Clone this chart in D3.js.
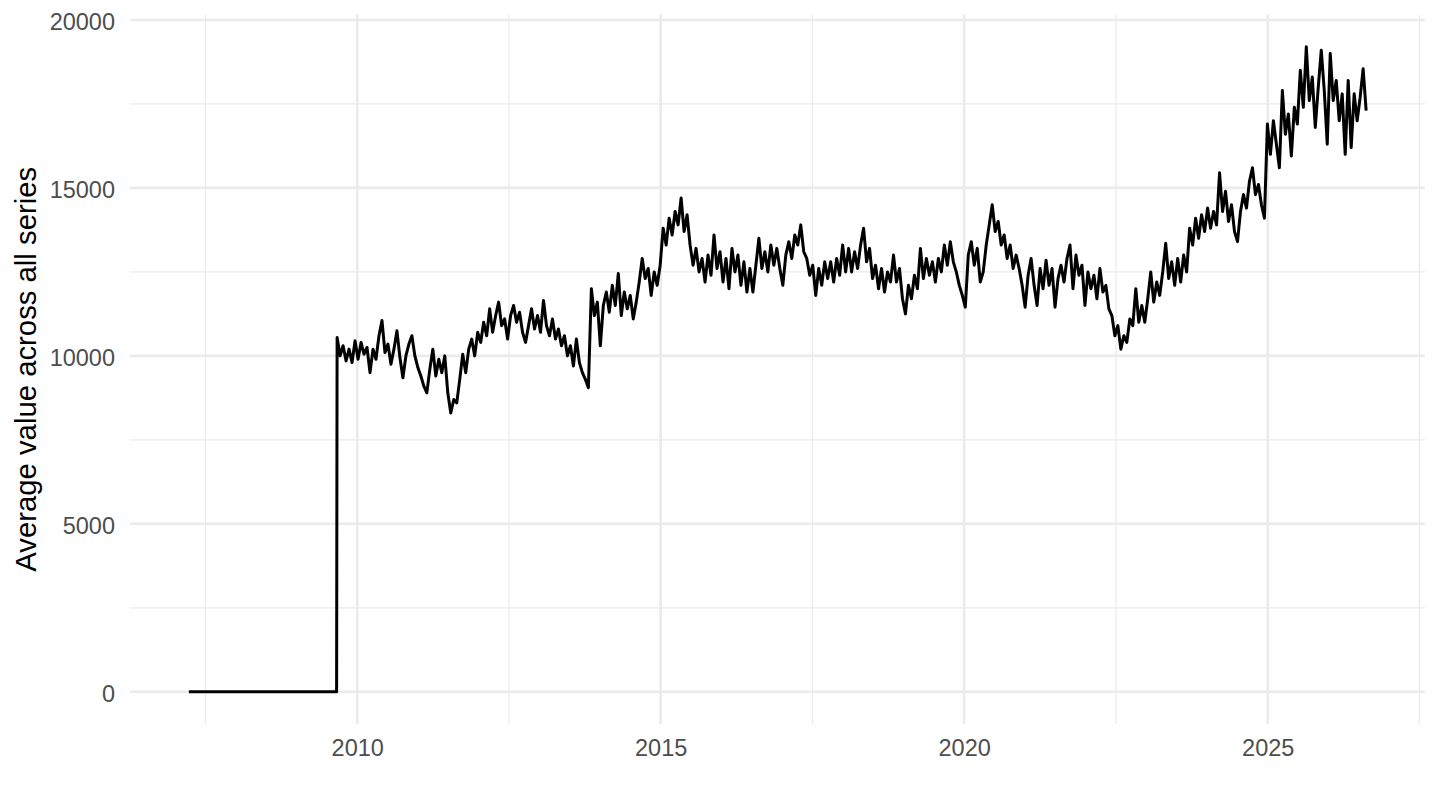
<!DOCTYPE html>
<html>
<head>
<meta charset="utf-8">
<script src="https://cdn.jsdelivr.net/npm/d3@7"></script>
<style>
  body { margin: 0; background: #fff; }
  svg { display: block; }
  text { font-family: "Liberation Sans", Arial, sans-serif; }
</style>
</head>
<body>
<svg id="chart" width="1440" height="810"></svg>
<script>
// flat stretch before the series starts reporting
const leadInDates = ['2007-03-25', '2007-09-23', '2008-03-23', '2008-09-21', '2009-03-22', '2009-08-30'];
const leadInValues = [0, 0, 0, 0, 0, 0];

// main series: one reading every 18 days from the start date
const seriesStart = '2009-09-02';
const seriesStepDays = 18;

const values2009 = [10550, 10000, 10300, 9850, 10200, 9800, 10450, 9900, 10400, 10050,
    10250, 9500, 10200, 9900, 10600, 11050, 10100, 10350, 9750, 10200,
    10750, 9950, 9350, 10000, 10350, 10600, 10000, 9650, 9400, 9100,
    8900, 9600, 10200, 9400, 9900, 9500, 10000, 8900, 8300, 8700,
    8600, 9300, 10050, 9500, 10200, 10500, 10000, 10700, 10400, 11000,
    10600, 11400, 10700, 11200, 11600, 10900, 11100, 10500];
const values2012 = [11200, 11500, 11000, 11300, 10700, 10400, 10900, 11400, 10800, 11200,
    10700, 11650, 10900, 10600, 11100, 10500, 10800, 10300, 10600, 10000,
    10300, 9700, 10500, 9800, 9500, 9300, 9050, 12000, 11200, 11600,
    10300, 11500, 11900, 11300, 12100, 11500, 12450, 11200, 11900, 11400,
    11800, 11100, 11600, 12200, 12900, 12300, 12600, 11800, 12500, 12100,
    12700, 13800, 13300, 14100, 13600, 14300, 13900, 14700];
const values2015 = [13700, 14200, 13300, 12700, 13200, 12500, 12900, 12200, 13000, 12400,
    13600, 12600, 13100, 12200, 12900, 12000, 13200, 12500, 13000, 12100,
    12800, 11900, 12600, 11900, 12700, 13500, 12600, 13100, 12500, 13300,
    12700, 13200, 12600, 12100, 13000, 13400, 12900, 13600, 13300, 13900,
    13100, 12900, 12400, 12700, 11800, 12600, 12100, 12800, 12300, 12800,
    12200, 12900, 12400, 13300, 12500];
const values2018 = [13200, 12500, 13100, 12600, 13300, 13800, 12800, 13200, 12300, 12700,
    12000, 12600, 11900, 12500, 12200, 13000, 12200, 12600, 11700, 11250,
    12100, 11700, 12400, 12000, 13200, 12300, 12900, 12400, 12800, 12200,
    12900, 12500, 13300, 12700, 13400, 12800, 12500, 12100, 11800, 11450,
    13000, 13400, 12700, 13200, 12200, 12500, 13300, 13900, 14500, 13700,
    14000, 13300, 13600, 12900, 13300, 12600];
const values2020 = [13000, 12600, 12100, 11450, 12400, 12900, 12100, 11500, 12600, 12000,
    12850, 12100, 12600, 11450, 12300, 12700, 12200, 12900, 13300, 12000,
    13000, 12400, 12700, 11500, 12500, 12000, 12400, 11700, 12600, 11900,
    12100, 11400, 11200, 10600, 10900, 10200, 10600, 10400, 11100, 10900,
    12000, 11000, 11500, 11000, 11700, 12500, 11600, 12200, 11800, 12500,
    13350, 12300, 12800, 12100, 12900, 12200, 13000, 12500];
const values2023 = [13800, 13300, 14100, 13500, 14200, 13700, 14400, 13800, 14300, 13900,
    15450, 14300, 14900, 14000, 14500, 13700, 13400, 14300, 14800, 14400,
    15200, 15600, 14800, 15100, 14500, 14100, 16900, 16000, 17000, 16300,
    15600, 17900, 16600, 17200, 15950, 17400, 16900, 18500, 17400, 19200,
    17600, 18300, 16800, 18000, 19100, 17900, 16300, 19000, 17600, 18200,
    17000, 17800, 16000, 18200, 16200, 17800, 17000, 17700, 18550, 17300];

const yTickValues = [0, 5000, 10000, 15000, 20000];
const xTickYears = [2010, 2015, 2020, 2025];
const yAxisTitle = 'Average value across all series';

const PANEL = { left: 130, right: 1425, top: 14.6, bottom: 724 };
const GRID_COLOR = '#EBEBEB';
const TICK_TEXT_COLOR = '#4D4D4D';

function buildSeries() {
    const parse = d3.timeParse('%Y-%m-%d');
    const lead = leadInDates.map((d, i) => ({ date: parse(d), value: leadInValues[i] }));
    const start = parse(seriesStart);
    const readings = [...values2009, ...values2012, ...values2015, ...values2018, ...values2020, ...values2023];
    const main = readings.map((value, i) => ({
        date: d3.timeDay.offset(start, i * seriesStepDays),
        value
    }));
    return [...lead, ...main];
}

// ggplot style: pad the data range by 5% on each side
function expand([lo, hi], ratio = 0.05) {
    const pad = (hi - lo) * ratio;
    return [lo - pad, hi + pad];
}

function drawGridLines(group, values, orient, scale, width) {
    const lines = group.selectAll(null).data(values).join('line')
        .attr('stroke', GRID_COLOR)
        .attr('stroke-width', width);
    if (orient === 'h') {
        lines.attr('x1', PANEL.left).attr('x2', PANEL.right)
            .attr('y1', d => scale(d)).attr('y2', d => scale(d));
    } else {
        lines.attr('y1', PANEL.top).attr('y2', PANEL.bottom)
            .attr('x1', d => scale(d)).attr('x2', d => scale(d));
    }
}

function draw() {
    const data = buildSeries();
    const svg = d3.select('#chart');

    const [t0, t1] = d3.extent(data, d => +d.date);
    const x = d3.scaleTime()
        .domain(expand([t0, t1]).map(t => new Date(t)))
        .range([PANEL.left, PANEL.right]);
    const y = d3.scaleLinear()
        .domain(expand(d3.extent(data, d => d.value)))
        .range([PANEL.bottom, PANEL.top]);

    const xMajor = xTickYears.map(yr => new Date(yr, 0, 1));
    // minor breaks sit halfway between the major ones, extended past the ends
    const xAll = [new Date(xTickYears[0] - 5, 0, 1), ...xMajor, new Date(xTickYears[xTickYears.length - 1] + 5, 0, 1)];
    const xMinor = d3.pairs(xAll).map(([a, b]) => new Date((+a + +b) / 2))
        .filter(d => d >= x.domain()[0] && d <= x.domain()[1]);
    const yMinor = d3.pairs(yTickValues).map(([a, b]) => (a + b) / 2);

    const grid = svg.append('g').attr('class', 'grid');
    drawGridLines(grid, yMinor, 'h', y, 1.3);
    drawGridLines(grid, xMinor, 'v', x, 1.3);
    drawGridLines(grid, yTickValues, 'h', y, 2.6);
    drawGridLines(grid, xMajor, 'v', x, 2.6);

    const line = d3.line().x(d => x(d.date)).y(d => y(d.value));
    svg.append('path')
        .datum(data)
        .attr('d', line)
        .attr('fill', 'none')
        .attr('stroke', '#000')
        .attr('stroke-width', 3)
        .attr('stroke-linejoin', 'round');

    // axes without domain lines or tick marks, like theme_minimal
    const xAxis = svg.append('g')
        .attr('transform', `translate(0,${PANEL.bottom})`)
        .call(d3.axisBottom(x).tickValues(xMajor).tickFormat(d3.timeFormat('%Y')).tickSize(0));
    xAxis.select('.domain').remove();
    xAxis.selectAll('text')
        .attr('y', 32).attr('dy', null)
        .attr('fill', TICK_TEXT_COLOR)
        .style('font-size', '23.5px');

    const yAxis = svg.append('g')
        .attr('transform', `translate(${PANEL.left},0)`)
        .call(d3.axisLeft(y).tickValues(yTickValues).tickFormat(d3.format('d')).tickSize(0));
    yAxis.select('.domain').remove();
    yAxis.selectAll('text')
        .attr('x', -15).attr('dy', '0.42em')
        .attr('fill', TICK_TEXT_COLOR)
        .style('font-size', '23.5px');

    svg.append('text')
        .attr('transform', `translate(36,${(PANEL.top + PANEL.bottom) / 2}) rotate(-90)`)
        .attr('text-anchor', 'middle')
        .attr('fill', '#000')
        .style('font-size', '29.3px')
        .text(yAxisTitle);
}

draw();
</script>
</body>
</html>
